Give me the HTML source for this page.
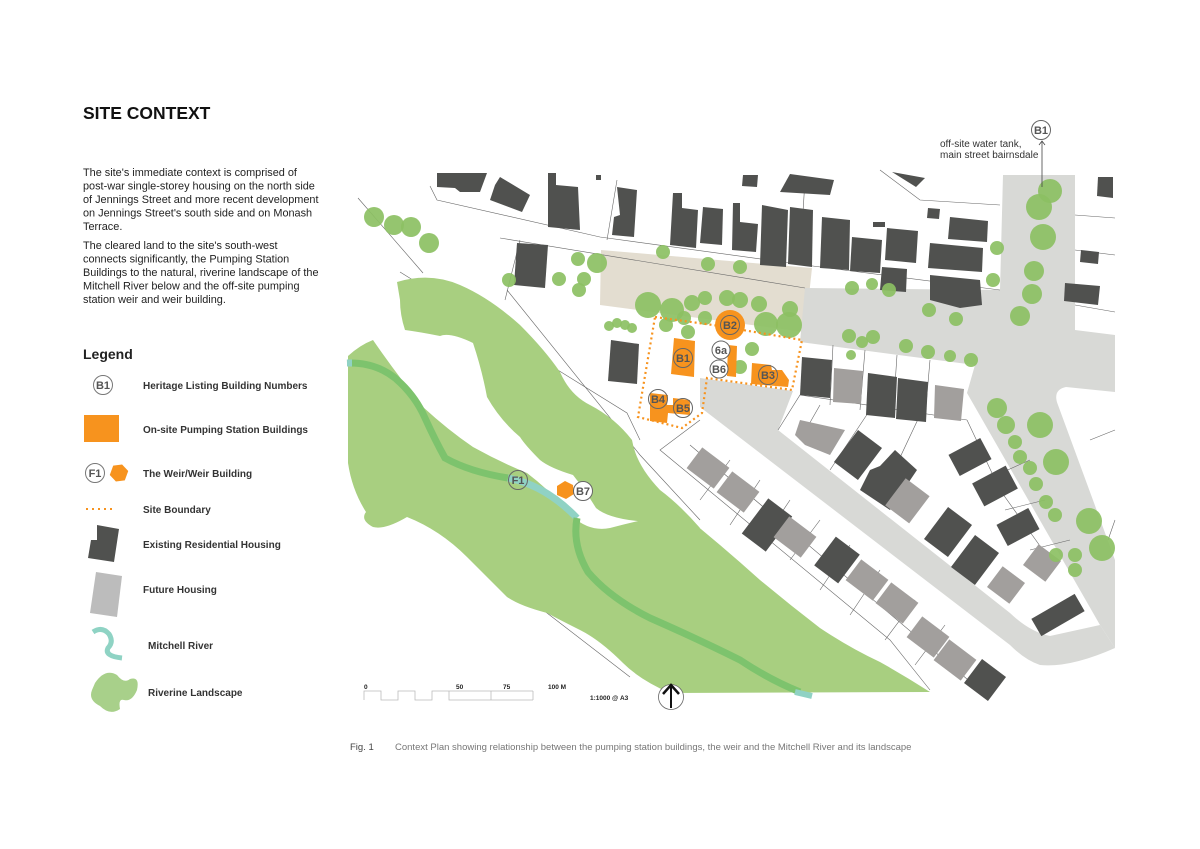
<!DOCTYPE html>
<html><head><meta charset="utf-8"><style>
html,body{margin:0;padding:0;background:#fff;}
svg{display:block;}
text{font-family:"Liberation Sans",Arial,sans-serif;}
</style></head><body>
<svg width="1200" height="849" viewBox="0 0 1200 849" xmlns="http://www.w3.org/2000/svg">
<rect width="1200" height="849" fill="#fff"/>
<text x="83" y="119" font-size="17.5" font-weight="bold" fill="#111">SITE CONTEXT</text>
<g font-size="10.9" fill="#222">
<text x="83" y="176">The site's immediate context is comprised of</text>
<text x="83" y="189.5">post-war single-storey housing on the north side</text>
<text x="83" y="203">of Jennings Street and more recent development</text>
<text x="83" y="216.5">on Jennings Street's south side and on Monash</text>
<text x="83" y="230">Terrace.</text>
<text x="83" y="249">The cleared land to the site's south-west</text>
<text x="83" y="262.5">connects significantly,  the Pumping Station</text>
<text x="83" y="276">Buildings to the natural, riverine landscape of the</text>
<text x="83" y="289.5">Mitchell River below and the off-site pumping</text>
<text x="83" y="303">station weir and weir building.</text>
</g>
<text x="83" y="359" font-size="14" font-weight="bold" fill="#222">Legend</text>
<g font-size="10" font-weight="bold" fill="#333">
<text x="143" y="389">Heritage Listing Building Numbers</text>
<text x="143" y="433">On-site Pumping Station Buildings</text>
<text x="143" y="477">The Weir/Weir Building</text>
<text x="143" y="513">Site Boundary</text>
<text x="143" y="548">Existing Residential Housing</text>
<text x="143" y="593">Future Housing</text>
<text x="148" y="649">Mitchell River</text>
<text x="148" y="696">Riverine Landscape</text>
</g>
<circle cx="103" cy="385" r="9.5" fill="#fff" stroke="#777" stroke-width="1"/>
<text x="103" y="389" font-size="11" font-weight="bold" fill="#555" text-anchor="middle">B1</text>
<rect x="84" y="415" width="35" height="27" fill="#f7931e"/>
<circle cx="95" cy="473" r="9.5" fill="#fff" stroke="#777"/>
<text x="95" y="477" font-size="11" font-weight="bold" fill="#555" text-anchor="middle">F1</text>
<polygon points="119,464 127,468 127,478 119,482 111,478 111,468" fill="#f7931e" transform="rotate(20 119 473)"/>
<line x1="86" y1="509" x2="116" y2="509" stroke="#f7931e" stroke-width="2" stroke-dasharray="2,4"/>
<polygon points="97,525 119,529 114,562 88,558 91,540 97,540" fill="#50514f"/>
<polygon points="96,572 122,576 117,617 90,613" fill="#bcbcbc"/>
<path d="M93,632 Q102,626 109,634 Q114,642 108,648 Q104,656 122,658" fill="none" stroke="#8fd3c4" stroke-width="5"/>
<path d="M95,683 Q105,668 117,675 Q124,684 130,679 Q140,676 137,690 Q132,702 124,700 Q118,698 120,709 Q110,716 100,706 Q88,700 92,690 Z" fill="#a8d08a"/>

<!-- MAP -->
<polygon points="601,250 812,268 805,332 600,305" fill="#e3ddd0"/>
<!-- roads -->
<path d="M1003,175 L1075,175 L1075,330 L1115,335 L1115,392 L1066,387 Q1052,390 1058,405 L1115,560 L1115,648 L1100,625 L967,393 L975,365 L800,342 L805,288 L1000,290 Z" fill="#d8d9d6"/>
<path d="M700,378 L793,391 L778,430 L1010,613 Q1030,632 1050,636 L1100,625 L1115,648 Q1070,668 1040,665 Q1025,660 1010,645 L700,407 Z" fill="#d8d9d6"/>

<g stroke="#666" stroke-width="0.6" fill="none">
<path d="M358,198 L423,273"/>
<path d="M400,272 L627,413 L640,440"/>
<path d="M507,290 L640,455 L700,520"/>
<path d="M360,457 L547,613 L630,677"/>
<path d="M430,186 L437,200 L600,237 L805,265 L1000,290"/>
<path d="M500,238 L805,288"/>
<path d="M520,240 L505,300"/>
<path d="M617,180 L607,240"/>
<path d="M805,180 L800,260"/>
<path d="M880,170 L920,200 L1000,205"/>
<path d="M1075,215 L1115,218 M1075,250 L1115,255 M1075,305 L1115,312"/>
<path d="M833,345 L830,405 M865,350 L860,410 M897,355 L893,415 M930,360 L925,418"/>
<path d="M778,430 L800,395 L967,420 M820,405 L800,440 M870,410 L830,470 M920,415 L880,500"/>
<path d="M700,420 L660,450 L890,640 L930,690"/>
<path d="M690,445 L980,690 M730,460 L700,500 M760,480 L730,525 M790,500 L760,545 M820,520 L790,560 M850,545 L820,590 M880,570 L850,615 M915,600 L885,640 M945,625 L915,665"/>
<path d="M967,420 L1000,490 L1050,560 M985,480 L1030,460 M1005,510 L1045,500 M1030,550 L1070,540"/>
<path d="M1115,430 L1090,440 M1115,520 L1108,540"/>
</g>

<path d="M397,282 Q430,272 460,285 Q490,298 520,325 Q545,350 560,372 Q570,395 590,405 Q615,418 632,440 Q636,465 660,490 Q680,505 700,528 L650,522 Q610,520 596,508 Q585,490 573,475 Q550,468 540,460 Q525,445 520,437 Q500,420 487,397 Q482,370 473,343 Q450,332 440,336 Q420,332 405,330 Q400,315 400,300 Z" fill="#a8cf80"/>
<path d="M348,356 Q360,345 373,340 Q395,372 423,407 Q448,430 473,447 Q500,462 527,473 Q552,492 573,517 Q590,532 610,528 Q640,520 680,512 Q700,528 720,545 Q740,562 760,580 Q790,605 820,628 Q850,648 880,662 Q905,676 930,692 L670,693 Q640,680 623,663 Q600,640 580,630 Q560,620 547,613 Q520,606 507,597 Q485,575 467,557 Q440,530 407,517 Q385,530 373,527 Q360,520 366,512 Q352,490 348,463 Z" fill="#a8cf80"/>
<path d="M347,363 Q375,362 395,378 Q415,395 425,418 Q435,440 445,458 Q470,472 508,478" fill="none" stroke="#7dc36d" stroke-width="7"/>
<path d="M508,478 Q545,485 577,518" fill="none" stroke="#90d2c4" stroke-width="7"/>
<path d="M577,518 Q572,545 588,572 Q610,598 650,618 Q700,640 740,660 Q770,680 800,692" fill="none" stroke="#7dc36d" stroke-width="7"/>
<path d="M347,363 L352,363" stroke="#90d2c4" stroke-width="7"/>
<path d="M795,692 L812,696" stroke="#90d2c4" stroke-width="6"/>

<g fill="#50514f">
<polygon points="437,173 487,173 480,192 460,192 455,188 437,187"/>
<polygon points="500,177 530,195 522,212 490,200 495,185"/>
<rect x="596" y="175" width="5" height="5"/>
<polygon points="548,173 556,173 556,185 578,187 580,230 548,227"/>
<polygon points="617,187 637,190 634,237 612,235 614,217 620,215"/>
<polygon points="673,193 682,193 682,208 698,210 696,248 670,245"/>
<polygon points="703,207 723,209 722,245 700,243"/>
<polygon points="733,203 740,203 740,222 758,224 756,252 732,250"/>
<polygon points="762,205 788,210 786,267 760,265"/>
<polygon points="790,207 813,210 812,267 788,264"/>
<polygon points="743,175 758,175 757,187 742,186"/>
<polygon points="790,174 834,180 830,195 780,192"/>
<polygon points="892,172 925,178 916,187"/>
<polygon points="822,217 850,220 849,270 820,268"/>
<polygon points="852,237 882,240 880,273 850,271"/>
<rect x="873" y="222" width="12" height="5"/>
<polygon points="887,228 918,231 916,263 885,260"/>
<polygon points="882,267 907,269 906,292 880,290"/>
<polygon points="928,208 940,209 939,219 927,218"/>
<polygon points="950,217 988,221 987,242 948,239"/>
<polygon points="930,243 983,248 982,272 928,268"/>
<polygon points="930,275 980,280 982,305 960,308 930,300"/>
<polygon points="1098,177 1113,177 1113,198 1097,196"/>
<polygon points="1081,250 1099,252 1098,264 1080,262"/>
<polygon points="1065,283 1100,286 1098,305 1064,301"/>
<polygon points="517,243 548,245 545,288 514,285"/>
<polygon points="611,340 639,344 637,384 608,381"/>
<polygon points="802,357 832,360 830,398 800,395"/>
<polygon points="868,373 897,377 895,418 866,415"/>
<polygon points="898,378 928,382 926,422 896,419"/>
<rect x="752" y="503" width="30" height="44" transform="rotate(37 767 525)"/>
<rect x="822" y="542" width="30" height="36" transform="rotate(37 837 560)"/>
<rect x="970" y="665" width="30" height="30" transform="rotate(37 985 680)"/>
<rect x="843" y="435" width="30" height="40" transform="rotate(37 858 455)"/>
<polygon points="895,450 917,470 890,510 860,490 870,470 880,466"/>
<rect x="952" y="445" width="36" height="24" transform="rotate(-28 970 457)"/>
<rect x="933" y="512" width="30" height="40" transform="rotate(37 948 532)"/>
<rect x="976" y="473" width="38" height="26" transform="rotate(-28 995 486)"/>
<rect x="960" y="540" width="30" height="40" transform="rotate(37 975 560)"/>
<rect x="1000" y="515" width="36" height="24" transform="rotate(-28 1018 527)"/>
<rect x="1033" y="605" width="50" height="20" transform="rotate(-30 1058 615)"/>
</g>
<g fill="#a29f9d">
<polygon points="834,368 863,371 861,404 833,402"/>
<polygon points="935,385 964,389 961,421 934,418"/>
<rect x="691" y="455" width="34" height="26" transform="rotate(37 708 468)"/>
<rect x="721" y="479" width="34" height="26" transform="rotate(37 738 492)"/>
<rect x="778" y="524" width="34" height="26" transform="rotate(37 795 537)"/>
<rect x="850" y="567" width="34" height="26" transform="rotate(37 867 580)"/>
<rect x="880" y="590" width="34" height="26" transform="rotate(37 897 603)"/>
<rect x="911" y="624" width="34" height="26" transform="rotate(37 928 637)"/>
<rect x="938" y="647" width="34" height="26" transform="rotate(37 955 660)"/>
<polygon points="800,420 845,430 830,455 805,445 795,435"/>
<rect x="893" y="484" width="30" height="34" transform="rotate(37 908 500)"/>
<rect x="992" y="572" width="28" height="26" transform="rotate(37 1006 585)"/>
<rect x="1028" y="550" width="28" height="26" transform="rotate(37 1042 563)"/>
</g>

<g fill="#8cc063" fill-opacity="0.92">
<circle cx="374" cy="217" r="10"/><circle cx="394" cy="225" r="10"/><circle cx="411" cy="227" r="10"/><circle cx="429" cy="243" r="10"/>
<circle cx="509" cy="280" r="7"/><circle cx="559" cy="279" r="7"/><circle cx="578" cy="259" r="7"/><circle cx="597" cy="263" r="10"/><circle cx="584" cy="279" r="7"/><circle cx="579" cy="290" r="7"/>
<circle cx="663" cy="252" r="7"/><circle cx="708" cy="264" r="7"/><circle cx="740" cy="267" r="7"/>
<circle cx="648" cy="305" r="13"/><circle cx="672" cy="310" r="12"/><circle cx="692" cy="303" r="8"/><circle cx="705" cy="298" r="7"/><circle cx="727" cy="298" r="8"/><circle cx="740" cy="300" r="8"/><circle cx="759" cy="304" r="8"/><circle cx="766" cy="324" r="12"/><circle cx="789" cy="325" r="13"/><circle cx="790" cy="309" r="8"/><circle cx="688" cy="332" r="7"/><circle cx="666" cy="325" r="7"/><circle cx="684" cy="318" r="7"/><circle cx="705" cy="318" r="7"/>
<circle cx="609" cy="326" r="5"/><circle cx="617" cy="323" r="5"/><circle cx="625" cy="325" r="5"/><circle cx="632" cy="328" r="5"/>
<circle cx="752" cy="349" r="7"/><circle cx="740" cy="367" r="7"/>
<circle cx="852" cy="288" r="7"/><circle cx="872" cy="284" r="6"/><circle cx="889" cy="290" r="7"/><circle cx="929" cy="310" r="7"/><circle cx="956" cy="319" r="7"/>
<circle cx="1050" cy="191" r="12"/><circle cx="1039" cy="207" r="13"/><circle cx="1043" cy="237" r="13"/><circle cx="1034" cy="271" r="10"/><circle cx="1032" cy="294" r="10"/><circle cx="1020" cy="316" r="10"/><circle cx="997" cy="248" r="7"/><circle cx="993" cy="280" r="7"/>
<circle cx="849" cy="336" r="7"/><circle cx="873" cy="337" r="7"/><circle cx="862" cy="342" r="6"/><circle cx="906" cy="346" r="7"/><circle cx="928" cy="352" r="7"/><circle cx="950" cy="356" r="6"/><circle cx="971" cy="360" r="7"/><circle cx="851" cy="355" r="5"/>
<circle cx="997" cy="408" r="10"/><circle cx="1006" cy="425" r="9"/><circle cx="1040" cy="425" r="13"/><circle cx="1015" cy="442" r="7"/><circle cx="1020" cy="457" r="7"/><circle cx="1030" cy="468" r="7"/><circle cx="1056" cy="462" r="13"/><circle cx="1036" cy="484" r="7"/><circle cx="1046" cy="502" r="7"/><circle cx="1089" cy="521" r="13"/><circle cx="1102" cy="548" r="13"/><circle cx="1056" cy="555" r="7"/><circle cx="1075" cy="555" r="7"/><circle cx="1075" cy="570" r="7"/><circle cx="1055" cy="515" r="7"/>
</g>

<polygon points="655,317 713,325 802,340 792,390 707,378 702,413 682,428 638,417" fill="none" stroke="#f7931e" stroke-width="2.2" stroke-dasharray="2,3"/>
<g fill="#f7931e">
<circle cx="730" cy="325" r="15"/>
<polygon points="674,338 695,341 694,377 671,374"/>
<polygon points="728,345 737,346 736,377 727,376"/>
<polygon points="752,363 771,365 772,370 782,370 789,380 788,387 751,384"/>
<polygon points="650,393 668,395 667,405 673,405 673,398 690,400 690,415 668,413 667,423 650,421"/>
<polygon points="565,481 573,485 574,494 566,499 557,495 557,486"/>
</g>
<g font-size="11" font-weight="bold" fill="#555" text-anchor="middle">
<circle cx="730" cy="325" r="9.5" fill="none" stroke="#666"/><text x="730" y="329">B2</text>
<circle cx="683" cy="358" r="9.5" fill="none" stroke="#666"/><text x="683" y="362">B1</text>
<circle cx="721" cy="350" r="9" fill="#fff" stroke="#666"/><text x="721" y="354">6a</text>
<circle cx="719" cy="369" r="9" fill="#fff" stroke="#666"/><text x="719" y="373">B6</text>
<circle cx="768" cy="375" r="9.5" fill="none" stroke="#666"/><text x="768" y="379">B3</text>
<circle cx="658" cy="399" r="9.5" fill="none" stroke="#666"/><text x="658" y="403">B4</text>
<circle cx="683" cy="408" r="9.5" fill="none" stroke="#666"/><text x="683" y="412">B5</text>
<circle cx="518" cy="480" r="9.5" fill="none" stroke="#666"/><text x="518" y="484">F1</text>
<circle cx="583" cy="491" r="9.5" fill="#fff" stroke="#666"/><text x="583" y="495">B7</text>
<circle cx="1041" cy="130" r="9.5" fill="#fff" stroke="#666"/><text x="1041" y="134">B1</text>
</g>
<line x1="1042" y1="141" x2="1042" y2="187" stroke="#444" stroke-width="0.8"/>
<path d="M1039,145 L1042,141 L1045,145" fill="none" stroke="#444" stroke-width="0.8"/>
<text x="940" y="147" font-size="10" fill="#333">off-site water tank,</text>
<text x="940" y="158" font-size="10" fill="#333">main street bairnsdale</text>

<g font-size="6.5" font-weight="bold" fill="#222">
<text x="364" y="689">0</text><text x="456" y="689">50</text><text x="503" y="689">75</text><text x="548" y="689">100 M</text>
<text x="590" y="700">1:1000 @ A3</text>
</g>
<path d="M364,700 L364,691 L381,691 L381,700 L398,700 L398,691 L415,691 L415,700 L432,700 L432,691 L449,691 L449,700 L491,700 L491,691 M449,691 L533,691 M533,691 L533,700 M491,700 L533,700" fill="none" stroke="#bbb" stroke-width="0.8"/>
<circle cx="671" cy="697" r="12.5" fill="#fff" stroke="#666" stroke-width="0.8"/>
<line x1="671" y1="686" x2="671" y2="708" stroke="#111" stroke-width="2"/>
<path d="M663,694 L671,685 L679,694" fill="none" stroke="#111" stroke-width="2.5"/>
<text x="350" y="750" font-size="9.5" fill="#444">Fig. 1</text>
<text x="395" y="750" font-size="9.5" fill="#777">Context Plan showing relationship between the pumping station buildings, the weir and the Mitchell River and its landscape</text>
</svg>
</body></html>
